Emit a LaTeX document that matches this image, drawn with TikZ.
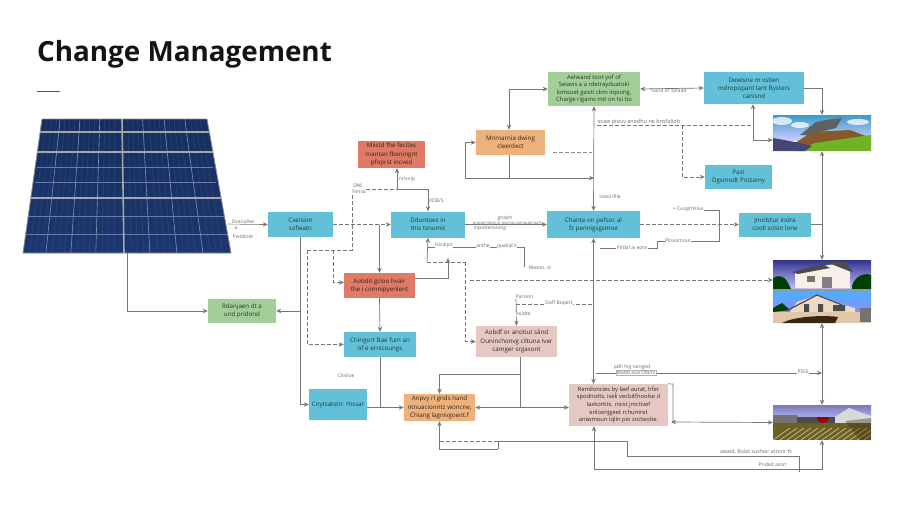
\documentclass[tikz,border=0pt]{standalone}
\usepackage{fontspec}
\setmainfont{Open Sans}
\usepackage{xcolor}
\usetikzlibrary{arrows.meta,shadings}
\definecolor{tealbox}{HTML}{62C1D8}
\definecolor{redbox}{HTML}{DE7A66}
\definecolor{greenbox}{HTML}{A2CF98}
\definecolor{orangebox}{HTML}{EDB27C}
\definecolor{pinkbox}{HTML}{E6C8C2}
\definecolor{linegray}{HTML}{777777}
\definecolor{cellblue}{HTML}{1B3770}
\tikzset{
	flow/.style={draw=none,inner sep=0pt,align=center,font=\fontsize{6.2}{8.2}\selectfont},
	tealflow/.style={flow,fill=tealbox,text=black!70!tealbox},
	redflow/.style={flow,fill=redbox,text=black!75!redbox},
	greenflow/.style={flow,fill=greenbox,text=black!75!greenbox},
	orangeflow/.style={flow,fill=orangebox,text=black!80!orangebox},
	pinkflow/.style={flow,fill=pinkbox,text=black!80!pinkbox},
	photo/.style={inner sep=0pt},
	conn/.style={draw=linegray,line width=.7pt,>={Stealth[length=5pt,width=4.4pt]}},
	dconn/.style={conn,dash pattern=on 4pt off 2pt},
	tag/.style={inner sep=.5pt,fill=white,text=black!58,font=\fontsize{5}{6}\selectfont}
}
\begin{document}
\begin{tikzpicture}[x=1pt,y=-1pt]
	\useasboundingbox (0,0) rectangle (900,514);
	\fill[white] (0,0) rectangle (900,514);

	\node (title) [anchor=west,inner sep=0pt,text=black!92,font=\fontsize{27.8}{30}\selectfont\bfseries] at (37,54) {Change Management};
	\coordinate (ruleA) at (37,91);
	\coordinate (ruleB) at (60,91);
	\draw[black!65,line width=.9pt] (ruleA) -- (ruleB);

	% solar panel
	\shade[top color=cellblue!85!black,bottom color=cellblue] (42,119) -- (207,119) -- (231,253) -- (23,253) -- cycle;
	\foreach \u in {.03,.06,.09,.14,.17,.20,.26,.29,.32,.38,.41,.44,.52,.55,.58,.65,.68,.71,.77,.80,.83,.90,.93,.96}
		\draw[cellblue!85!white,line width=.25pt] ({42+165*\u},119) -- ({23+208*\u},253);
	\foreach \u in {.11,.23,.35,.61,.74,.865}
		\draw[cellblue!55!white,line width=.6pt] ({42+165*\u},119) -- ({23+208*\u},253);
	\foreach \yy/\ll/\rr in {167/37/213,182/35/216,216/29/224,234/26/227}
		\draw[cellblue!65!white,line width=.4pt] (\ll,\yy) -- (\rr,\yy);
	\foreach \yy/\ll/\rr in {132/40/209,152/37/213,198/31/221}
		\draw[black!35,line width=1.3pt] (\ll,\yy) -- (\rr,\yy);
	\draw[black!35,line width=1.6pt] (122,119) -- (124,253);
	\draw[black!45,line width=.8pt] (42,119) -- (207,119) -- (231,253) -- (23,253) -- cycle;
	\node (panel) [minimum width=208pt,minimum height=134pt,inner sep=0pt] at (127,186) {};
	\coordinate (panelout) at (228,224);

	% photos
	\begin{scope}
		\clip (773,115) rectangle (871,151);
		\shade[top color=blue!30!cyan!55!gray,bottom color=white!80!blue] (773,115) rectangle (871,140);
		\fill[white,opacity=.75] (782,121) ellipse (10 and 4) (800,125) ellipse (9 and 3) (858,122) ellipse (11 and 3);
		\fill[brown!70!black] (795,143) -- (812,132) -- (850,130) -- (871,138) -- (871,145) -- (795,146) -- cycle;
		\fill[black!62] (800,135) -- (816,122) -- (832,119) -- (842,118) -- (836,128) -- (808,135) -- cycle;
		\fill[green!30!olive!85!white] (796,151) -- (815,143) -- (871,135) -- (871,151) -- cycle;
		\fill[black!60!blue!45!gray] (773,138) -- (795,142) -- (812,146) -- (805,151) -- (773,151) -- cycle;
	\end{scope}
	\node (imgtop) [photo,minimum width=98pt,minimum height=36pt] at (822,133) {};
	\begin{scope}
		\clip (773,260) rectangle (871,323);
		\shade[top color=blue!45!black!80!white,bottom color=blue!25!white] (773,260) rectangle (871,289);
		\fill[green!25!black] (773,289) -- (773,278) to[bend left=50] (787,281) -- (791,289) -- cycle;
		\fill[green!25!black] (852,289) to[bend left=60] (871,275) -- (871,289) -- cycle;
		\fill[white!88!brown] (795,288) -- (795,272) -- (822,266) -- (842,263) -- (850,272) -- (850,288) -- cycle;
		\fill[black!70] (792,272) -- (822,264) -- (830,268) -- (798,274) -- cycle (826,262) -- (845,262) -- (853,272) -- (849,271) -- cycle;
		\fill[gray] (822,277) rectangle (832,288);
		\fill[black!55] (807,276) rectangle (815,282);
		\fill[black!40] (773,289) rectangle (871,292);
		\shade[top color=blue!45!cyan!70!white,bottom color=white!55!blue] (773,292) rectangle (871,312);
		\fill[green!25!black] (773,308) -- (782,303) -- (790,310) -- (773,312) -- cycle;
		\fill[white!70!brown] (790,312) -- (797,302) -- (817,295) -- (840,304) -- (855,308) -- (855,314) -- cycle;
		\draw[black!70,line width=1.2pt] (786,311) -- (817,295) -- (842,305);
		\fill[black!70] (804,304) rectangle (809,312) (818,304) rectangle (823,312) (833,305) rectangle (845,311);
		\fill[brown!45!white] (773,312) rectangle (871,323);
		\fill[black!70!brown] (782,323) .. controls (795,316) and (825,315) .. (838,317) -- (835,323) -- cycle;
		\fill[black!55] (860,308) rectangle (871,322);
	\end{scope}
	\node (imgmid) [photo,minimum width=98pt,minimum height=63pt] at (822,291.5) {};
	\begin{scope}
		\clip (773,405) rectangle (871,440);
		\shade[top color=blue!30!gray!80!white,bottom color=white!75!blue] (773,405) rectangle (871,422);
		\fill[black!55] (773,415) rectangle (797,425);
		\fill[black!70] (797,417) rectangle (835,424);
		\fill[red!60!black] (817,417) arc (180:0:6);
		\fill[white!70!gray] (835,417) -- (849,408) -- (871,416) -- (871,425) -- (835,425) -- cycle;
		\fill[olive!65!black] (773,423) rectangle (871,440);
		\foreach \k in {0,7,...,98}
			\draw[brown!65!white,line width=.8pt] ({773+\k},440) -- ({790+\k},428);
		\fill[brown!35!black,opacity=.4] (845,421) -- (871,418) -- (871,440) -- (860,440) -- cycle;
	\end{scope}
	\node (imgbot) [photo,minimum width=98pt,minimum height=35pt] at (822,422.5) {};

	% boxes
	\node (cesbox) [tealflow,minimum width=65pt,minimum height=25pt] at (300.5,224.5) {Cxeision\\sofwatn};
	\node (bandbox) [greenflow,minimum width=68pt,minimum height=24pt] at (242,311) {Rdanjaen dt a\\und pridond};
	\node (mbox) [redflow,minimum width=67pt,minimum height=27pt] at (391.5,154.5) {Miistd fhe fecites\\mantan fbeningnt\\pfoprst incved};
	\node (dbox) [tealflow,minimum width=74pt,minimum height=26pt] at (428,224.5) {Dduntoes in\\this tsnumit};
	\node (abox) [redflow,minimum width=71pt,minimum height=25pt] at (379.5,285.5) {Aobdit gcloo hvair\\the i comnipyenlent};
	\node (obox) [tealflow,minimum width=72pt,minimum height=25pt] at (380,344.5) {Chingort Bae fum an\\of e ernicoungs};
	\node (cbox) [tealflow,minimum width=58pt,minimum height=31pt] at (338,404.5) {Cnytsatstn: Hissar};
	\node (rbox) [orangeflow,minimum width=71pt,minimum height=27pt] at (439.5,407.5) {Anpvy rl gnds hand\\ntnuacionntz woncne,\\Chiang lagnivgoent.f};
	\node (kbox) [pinkflow,minimum width=81pt,minimum height=31pt] at (516.5,341.5) {Aobdf or anotiut sând\\Ouninchonvg ciltuna Iver\\camger srgasont};
	\node (wbox) [pinkflow,minimum width=99pt,minimum height=42pt,font=\fontsize{5.8}{7.6}\selectfont] at (618.5,405) {Remiloncies by laef aurat, hfer\\spodnotts, isek vecbitfnoolse d\\laxkortits. nsist jmctivef\\enloenjgeet rchumret\\aniwmoun iqlin pio zocteotie.};
	\node (nbox) [orangeflow,minimum width=69pt,minimum height=25pt] at (510.5,142.5) {Mnmarnia dwing\\cleerdect};
	\node (sbox) [greenflow,minimum width=92pt,minimum height=34pt,font=\fontsize{5.9}{7.6}\selectfont] at (594,89) {Aelwand toot yof of\\Seiavis a a rdetrayduatoki\\lomsoet gsisti cbm inpiong,\\Charge rigams mit on tsi tio};
	\node (ubox) [tealflow,minimum width=100pt,minimum height=32pt] at (754,88) {Dewlsne m vstien\\mdropopant lant Bysters\\canisnd};
	\node (pbox) [tealflow,minimum width=67pt,minimum height=24pt] at (738.5,177) {Past\\Dgsmodt Potzamy};
	\node (tbox) [tealflow,minimum width=93pt,minimum height=27pt] at (593.5,224.5) {Chante on pefsoc al\\fz pennigsgsmoe};
	\node (jbox) [tealflow,minimum width=72pt,minimum height=24pt] at (775,224.5) {Jmidstuc indra\\cooll sclsin lone};

	% connectors
	\draw[conn,->] (panel.south) |- (bandbox.west);
	\draw[conn,->] (panelout) -- (cesbox.west);
	\draw[conn,->] (cesbox.south) |- (cbox.west);
	\draw[conn,->] (cesbox.south |- bandbox.east) -- (bandbox.east);
	\draw[dconn,->] (cesbox.east) -- (dbox.west);
	\coordinate (dashA) at (307,250);
	\coordinate (dashB) at (333,250);
	\coordinate (dashC) at (352,250);
	\coordinate (dashD) at (352,189);
	\draw[dconn] (dashA) -- (dashC) -- (dashD) -- (397,189);
	\draw[conn,->] (397,189) -| (dbox.north);
	\draw[conn,->] (397,189) -- ([xshift=5.5pt]mbox.south);
	\draw[dconn,->] (dashA) |- (obox.west);
	\draw[dconn,->] (dashB) |- ([yshift=3pt]abox.west);
	\draw[conn,->] (dbox.west -| abox.north) -- (abox.north);
	\draw[conn,->] (abox.south) -- (obox.north);
	\draw[conn] (obox.south) -- (obox.south |- rbox.west);
	\draw[conn,->] (rbox.west -| cbox.east) -- (rbox.west);
	\coordinate (loopA) at (427,262);
	\coordinate (loopB) at (465,262);
	\coordinate (loopC) at (448,258);
	\draw[conn,->] ([yshift=7pt]abox.east) -| (loopC);
	\draw[conn,->] (loopA) -- (dbox.south);
	\draw[dconn] (loopA) -- (loopB);
	\draw[dconn,->] (loopB) |- (kbox.west);
	\coordinate (masonA) at (427,247);
	\coordinate (masonB) at (524,247);
	\coordinate (masonC) at (524,267);
	\draw[conn] (masonA) -- (masonB) -- (masonC);
	\draw[conn,->] (dbox.east) -- (tbox.west);
	\coordinate (longA) at (470,280);
	\draw[dconn,->] (longA) -- (longA -| imgmid.west);
	\coordinate (draftA) at (516,296);
	\coordinate (draftB) at (516,304);
	\coordinate (draftC) at (594,304);
	\draw[conn,->] (draftA) -- (kbox.north);
	\draw[dconn] (draftB) -- (draftC);
	\coordinate (forkA) at (520,374);
	\draw[conn] ([xshift=3.5pt]kbox.south) -- (rbox.east -| forkA);
	\draw[conn,->] (forkA) -| (rbox.north);
	\draw[conn,<->] (rbox.east) -- (rbox.east -| wbox.west);
	\coordinate (lowA) at (498,449);
	\coordinate (lowB) at (498,441);
	\coordinate (lowC) at (627,441);
	\coordinate (lowD) at (627,456);
	\coordinate (lowE) at (799,456);
	\coordinate (lowF) at (799,472);
	\draw[conn,->] (lowA) -| (rbox.south);
	\draw[conn] (lowA) -- (lowB) -- (lowC) -- (lowD) -- (lowE) -- (lowF);
	\draw[dconn] (rbox.south |- lowB) -- (lowB);
	\coordinate (baseA) at (594,469);
	\draw[conn,->] (baseA) -- (baseA |- wbox.south);
	\draw[conn,->] (baseA) -| (imgbot.south);
	\draw[conn,<->] (tbox.south) -- (tbox.south |- wbox.north);
	\draw[conn,<->] (sbox.south) -- (tbox.north);
	\coordinate (topdash) at (597,125);
	\coordinate (topdashB) at (753,125);
	\draw[dconn] (topdash) -- (topdashB);
	\draw[dconn,->] (682,125) |- (pbox.west);
	\draw[conn,->] (topdashB) -- (ubox.south -| topdashB);
	\draw[conn,->] (topdashB) |- ([yshift=-7pt]imgtop.west);
	\coordinate (stubA) at (553,152);
	\coordinate (stubB) at (592,152);
	\draw[dconn,black!45] (stubA) -- (stubB);
	\coordinate (loopD) at (465,178);
	\draw[conn,->] (loopD) -- (loopD -| sbox.south);
	\draw[conn,->] (loopD) |- (nbox.west);
	\draw[conn] ([xshift=-1.5pt]nbox.south) -- ([xshift=-1.5pt]nbox.south |- loopD);
	\draw[conn,<->] ([xshift=-1.5pt]nbox.north) |- (sbox.west);
	\draw[conn,<->] (sbox.east) -- (ubox.west);
	\draw[conn,->] (ubox.east) -| (imgtop.north);
	\draw[conn,<->] (imgtop.south) -- (imgmid.north);
	\draw[conn] (jbox.east) -- (jbox.east -| imgtop.south);
	\draw[conn,<->] (imgmid.south) -- (imgbot.north);
	\draw[dconn,->] (tbox.east) -- (jbox.west);
	\coordinate (cogA) at (700,210);
	\coordinate (cogB) at (719,210);
	\coordinate (cogC) at (719,241);
	\coordinate (cogD) at (657,241);
	\coordinate (cogE) at (657,248);
	\coordinate (cogF) at (600,248);
	\draw[conn] (cogA) -- (cogB) -- (cogC) -- (cogD) -- (cogE) -- (cogF);
	\coordinate (pdisA) at (596,373);
	\draw[conn,->] (pdisA) -- (pdisA -| imgtop.south);
	\coordinate (sideA) at (673,384);
	\coordinate (sideB) at (673,422);
	\draw[conn] (wbox.north east) -- (sideA) -- (sideB);
	\draw[conn,<->] ([xshift=-2pt]sideB) -- (imgbot.west);

	% labels
	\node (tagA) [tag] at (243,222) {Dvanalise};
	\node (tagB) [tag,fill=none] at (236,228) {a};
	\node (tagC) [tag] at (243,237) {Pwidinet};
	\node (tagD) [tag] at (358,186) {SWL};
	\node (tagE) [tag] at (359,191.5) {Fiinsa};
	\node (tagF) [tag,fill=none] at (407,179) {nrisnip};
	\node (tagG) [tag,fill=none] at (436,201) {DDB/S};
	\node (tagH) [tag,fill=none] at (505,218) {gnaph};
	\node (tagI) [tag,fill=none,font=\fontsize{4.1}{5}\selectfont] at (508,223) {proportibng in pisnnp comquet balrs};
	\node (tagJ) [tag,fill=none] at (490,228.5) {inpottensiong};
	\node (tagK) [tag] at (444,245.5) {Hisaipn};
	\node (tagL) [tag] at (483,245.5) {anthe};
	\node (tagM) [tag] at (507,246) {queliat k};
	\node (tagN) [tag] at (540,268) {Mason, st};
	\node (tagO) [tag] at (524.5,297) {Parsion};
	\node (tagP) [tag] at (523,314) {hoidte};
	\node (tagQ) [tag] at (559,303) {Daff Bopert};
	\node (tagR) [tag,fill=none] at (346,376) {Citsliue};
	\node (tagS) [tag,font=\fontsize{5.5}{6}\selectfont] at (639,122) {ssaw pissiv anedhu ne bnsfalioh};
	\node (tagT) [tag] at (668,91) {''nand or solaad};
	\node (tagU) [tag] at (610,197) {sosoirfile};
	\node (tagV) [tag] at (688,209) {+ Cuogrhliisa};
	\node (tagW) [tag] at (678,241) {Plisasmour};
	\node (tagX) [tag] at (632,247.5) {Pifdal ai eote};
	\node (tagY) [tag] at (632,367) {pdh hig nanged};
	\node (tagZ) [tag,draw=black!30,line width=.2pt] at (636,373) {Mabb aue Dlbmi};
	\node (tagAA) [tag] at (803,372) {PDIS};
	\node (tagAB) [tag,font=\fontsize{5.3}{6}\selectfont] at (756,452) {awaid, Bolat sushier attonr fs};
	\node (tagAC) [tag] at (773,465) {Pndad asorr};
\end{tikzpicture}
\end{document}
